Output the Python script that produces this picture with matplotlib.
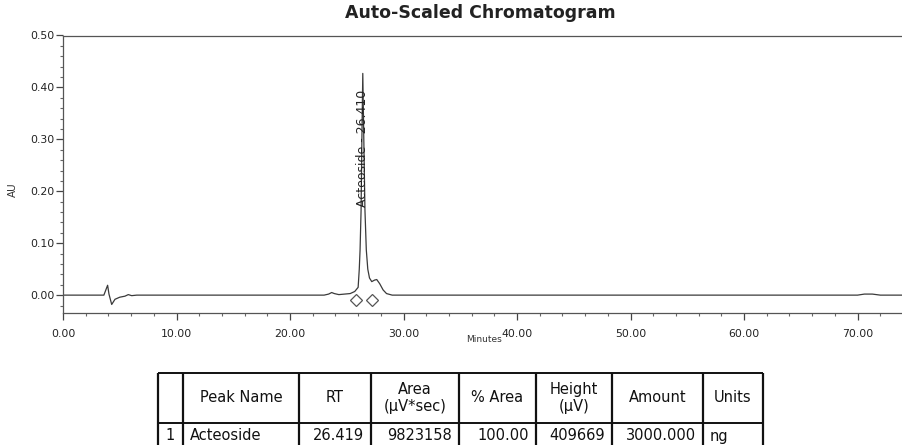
import matplotlib
matplotlib.use("Agg")
import matplotlib.pyplot as plt
from matplotlib.ticker import MultipleLocator, FormatStrFormatter

# ---------------- data ----------------
time_min = [0.0, 2.0, 3.6, 3.93, 4.05, 4.29, 4.58, 5.0, 5.46, 5.75, 6.05, 6.5,
            10.0, 15.0, 20.0, 23.0, 23.4, 23.67, 23.9, 24.3, 25.3, 25.7, 26.0,
            26.1, 26.17, 26.26, 26.33, 26.41, 26.5, 26.6, 26.72, 26.85, 27.0,
            27.2, 27.45, 27.64, 27.9, 28.2, 28.5, 29.0, 35.0, 45.0, 55.0, 65.0,
            70.0, 70.6, 71.3, 72.0, 74.0]
absorb_au = [0.0, 0.0, 0.0, 0.019, 0.002, -0.018, -0.008, -0.004, -0.002, 0.001, -0.001, 0.0,
             0.0, 0.0, 0.0, 0.0, 0.002, 0.005, 0.003, 0.001, 0.003, 0.007, 0.015,
             0.05, 0.087, 0.164, 0.30, 0.427, 0.30, 0.164, 0.087, 0.05, 0.033,
             0.026, 0.029, 0.030, 0.022, 0.010, 0.003, 0.0, 0.0, 0.0, 0.0, 0.0,
             0.0, 0.002, 0.002, 0.0, 0.0]

marker_t = [25.85, 27.2]
marker_au = [-0.010, -0.010]

peak_label = "Acteoside - 26.410"
peak_label_t = 26.35
peak_label_au = 0.282

table_headers = ["", "Peak Name", "RT", "Area\n(µV*sec)", "% Area", "Height\n(µV)", "Amount", "Units"]
table_row = ["1", "Acteoside", "26.419", "9823158", "100.00", "409669", "3000.000", "ng"]

# ---------------- figure ----------------
W, H = 903, 445
fig = plt.figure(figsize=(W / 100, H / 100), dpi=100)
plt.rcParams['font.family'] = ['DejaVu Sans']

ax = fig.add_axes([63 / W, 1 - 313.3 / H, (W - 63) / W, (313.3 - 35.5) / H])
ax.plot(time_min, absorb_au, color='#3a3a3a', lw=0.9)
ax.plot(marker_t, marker_au, linestyle='none', marker='D', markersize=6,
        markerfacecolor='white', markeredgecolor='#555555', markeredgewidth=0.9)
ax.text(peak_label_t, peak_label_au, peak_label, rotation=90, ha='center', va='center',
        fontsize=9, color='#222222')

ax.set_xlim(0, 74)
ax.set_ylim(-0.035, 0.50)
ax.xaxis.set_major_locator(MultipleLocator(10))
ax.xaxis.set_minor_locator(MultipleLocator(2))
ax.yaxis.set_major_locator(MultipleLocator(0.1))
ax.yaxis.set_minor_locator(MultipleLocator(0.02))
ax.xaxis.set_major_formatter(FormatStrFormatter('%.2f'))
ax.yaxis.set_major_formatter(FormatStrFormatter('%.2f'))
ax.tick_params(which='major', direction='out', length=5, width=0.9, colors='#444444',
               labelsize=7.8, labelcolor='#222222')
ax.tick_params(which='minor', direction='out', length=2.5, width=0.8, colors='#666666')
ax.tick_params(axis='x', which='major', pad=6)
ax.tick_params(axis='y', which='major', pad=1)
ax.spines['right'].set_visible(False)
for s in ['left', 'bottom', 'top']:
    ax.spines[s].set_color('#555555')
    ax.spines[s].set_linewidth(0.9)

fig.text(480 / W, 1 - 13 / H, "Auto-Scaled Chromatogram", ha='center', va='center',
         fontsize=12.5, fontweight='bold', color='#222222')
fig.text(484 / W, 1 - 339 / H, "Minutes", ha='center', va='center', fontsize=6.5, color='#333333')
fig.text(13 / W, 1 - 190 / H, "AU", ha='center', va='center', rotation=90, fontsize=7.5,
         color='#333333')

# ---------------- table ----------------
tax = fig.add_axes([0, 0, 1, 1])
tax.set_xlim(0, W)
tax.set_ylim(H, 0)
tax.axis('off')
col_x = [158, 183, 299, 371, 459, 536, 612, 703, 763]
top, mid, bot = 373, 422.7, 449
lc = '#111111'
for x in col_x:
    tax.plot([x, x], [top, bot], color=lc, lw=1.6, solid_capstyle='butt')
for y in [top, mid]:
    tax.plot([col_x[0], col_x[-1]], [y, y], color=lc, lw=1.4, solid_capstyle='butt')
tax.plot([col_x[0], col_x[-1]], [bot, bot], color=lc, lw=1.4)

for i, h in enumerate(table_headers):
    cx = (col_x[i] + col_x[i + 1]) / 2
    tax.text(cx, (top + mid) / 2, h, ha='center', va='center', fontsize=10.5,
             color='#111111', linespacing=1.15)

right_aligned = [2, 3, 4, 5, 6]
for i, v in enumerate(table_row):
    cy = 436
    if i == 0:
        tax.text((col_x[0] + col_x[1]) / 2, cy, v, ha='center', va='center', fontsize=10.5, color='#111111')
    elif i in right_aligned:
        tax.text(col_x[i + 1] - 7, cy, v, ha='right', va='center', fontsize=10.5, color='#111111')
    else:
        tax.text(col_x[i] + 7, cy, v, ha='left', va='center', fontsize=10.5, color='#111111')

fig.savefig("out.png", dpi=100)
